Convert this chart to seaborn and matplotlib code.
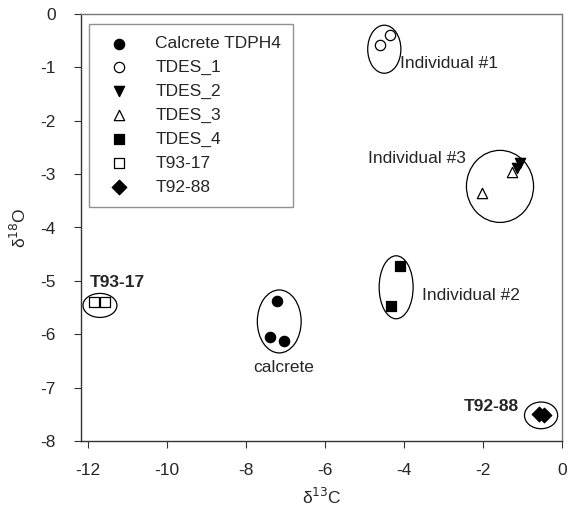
import matplotlib
matplotlib.use("Agg")
import matplotlib.pyplot as plt
from matplotlib.patches import Ellipse
import seaborn as sns
import pandas as pd

sns.set_theme(style="ticks")
plt.rcParams['font.family'] = ['Liberation Sans', 'DejaVu Sans']
plt.rcParams['font.size'] = 12.5
plt.rcParams['axes.unicode_minus'] = False
FS = 12.5

# isotope values
series_names = ["Calcrete TDPH4", "TDES_1", "TDES_2", "TDES_3", "TDES_4", "T93-17", "T92-88"]
d13c = {
    "Calcrete TDPH4": [-7.22, -7.39, -7.04],
    "TDES_1": [-4.60, -4.35],
    "TDES_2": [-1.06, -1.14],
    "TDES_3": [-2.03, -1.27],
    "TDES_4": [-4.10, -4.33],
    "T93-17": [-11.85, -11.57],
    "T92-88": [-0.58, -0.45],
}
d18o = {
    "Calcrete TDPH4": [-5.38, -6.06, -6.12],
    "TDES_1": [-0.58, -0.40],
    "TDES_2": [-2.80, -2.89],
    "TDES_3": [-3.36, -2.96],
    "TDES_4": [-4.73, -5.48],
    "T93-17": [-5.40, -5.40],
    "T92-88": [-7.50, -7.52],
}
marker_of = {"Calcrete TDPH4": "o", "TDES_1": "o", "TDES_2": "v", "TDES_3": "^",
             "TDES_4": "s", "T93-17": "s", "T92-88": "D"}
filled = {"Calcrete TDPH4": True, "TDES_1": False, "TDES_2": True, "TDES_3": False,
          "TDES_4": True, "T93-17": False, "T92-88": True}

# group outlines (center x, center y, width, height)
groups_x = [-4.5, -1.57, -4.20, -7.16, -11.70, -0.53]
groups_y = [-0.66, -3.23, -5.12, -5.76, -5.46, -7.52]
groups_w = [0.84, 1.70, 0.86, 1.11, 0.86, 0.84]
groups_h = [0.90, 1.35, 1.18, 1.18, 0.45, 0.50]

labels_txt = ["Individual #1", "Individual #3", "Individual #2", "calcrete", "T93-17", "T92-88"]
labels_x = [-4.10, -2.43, -3.54, -7.06, -11.97, -1.10]
labels_y = [-0.92, -2.70, -5.27, -6.62, -5.03, -7.35]

rows = []
for name in series_names:
    for x, y in zip(d13c[name], d18o[name]):
        rows.append({"d13C": x, "d18O": y, "sample": name})
df = pd.DataFrame(rows)

fig, ax = plt.subplots(figsize=(5.68, 5.11), dpi=100)
fig.subplots_adjust(left=81/568, right=562/568, top=1-14/511, bottom=1-441/511)

for name in series_names:
    sub = df[df["sample"] == name]
    sns.scatterplot(data=sub, x="d13C", y="d18O", marker=marker_of[name],
                    color="black" if filled[name] else "white",
                    edgecolor="black", linewidth=0.9, s=55, label=name, ax=ax, zorder=3)

for cx, cy, w, h in zip(groups_x, groups_y, groups_w, groups_h):
    ax.add_patch(Ellipse((cx, cy), w, h, fill=False, edgecolor="black", linewidth=0.9))

align = ["left", "right", "left", "center", "left", "right"]
bold = [False, False, False, False, True, True]
for t, x, y, ha, b in zip(labels_txt, labels_x, labels_y, align, bold):
    ax.text(x, y, t, ha=ha, va="center", fontsize=FS,
            fontweight="bold" if b else "normal")

ax.set_xlim(-12.18, 0)
ax.set_ylim(-8, 0)
ax.set_xticks([-12, -10, -8, -6, -4, -2, 0])
ax.set_yticks([0, -1, -2, -3, -4, -5, -6, -7, -8])
ax.tick_params(direction="out", length=5, width=0.8, color="#333333", labelsize=FS)
ax.tick_params(axis="x", pad=11)
ax.tick_params(axis="y", pad=13)
for side in ["left", "bottom"]:
    ax.spines[side].set_color("#333333")
for side in ["top", "right"]:
    ax.spines[side].set_color("#777777")
for sp in ax.spines.values():
    sp.set_linewidth(1.0)

ax.set_xlabel("δ$^{13}$C", fontsize=FS, labelpad=6)
ax.set_ylabel("δ$^{18}$O", fontsize=FS, labelpad=8)

leg = ax.legend(loc="upper left", bbox_to_anchor=(0.017, 0.977), borderaxespad=0,
                frameon=True, fancybox=False, edgecolor="#777777", fontsize=FS,
                labelspacing=0.5, handletextpad=1.1, borderpad=0.7, markerscale=1.0)
leg.get_frame().set_linewidth(1.0)

fig.savefig("out.png", dpi=100)
